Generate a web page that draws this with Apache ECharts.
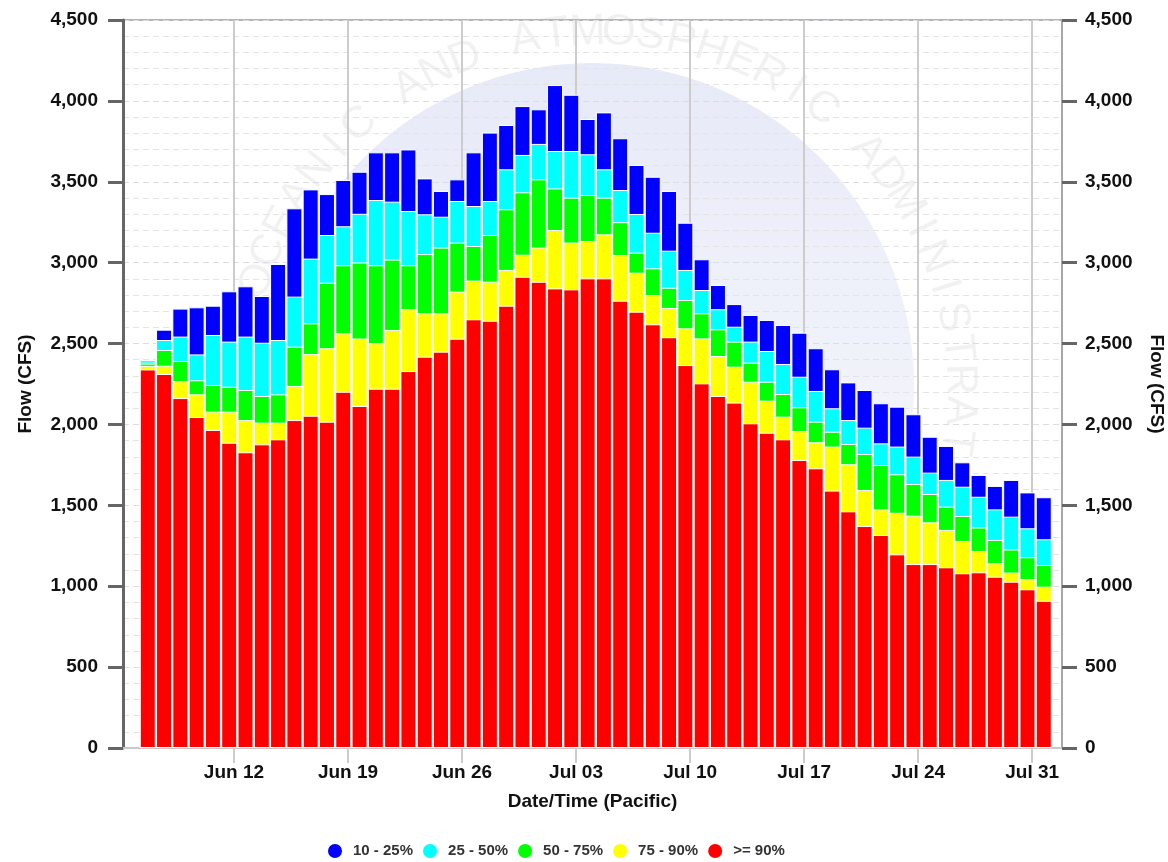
<!DOCTYPE html>
<html>
<head>
<meta charset="utf-8">
<script src="https://cdn.jsdelivr.net/npm/echarts@6/dist/echarts.min.js"></script>
<style>
    html, body { margin: 0; padding: 0; background: #fff; }
    #chart { width: 1168px; height: 862px; }
</style>
</head>
<body>
<div id="chart"></div>
<script>
// days covered by the forecast (one bar each)
var dates = ['Jun 06', 'Jun 07', 'Jun 08', 'Jun 09', 'Jun 10', 'Jun 11', 'Jun 12', 'Jun 13',
    'Jun 14', 'Jun 15', 'Jun 16', 'Jun 17', 'Jun 18', 'Jun 19', 'Jun 20', 'Jun 21', 'Jun 22',
    'Jun 23', 'Jun 24', 'Jun 25', 'Jun 26', 'Jun 27', 'Jun 28', 'Jun 29', 'Jun 30', 'Jul 01',
    'Jul 02', 'Jul 03', 'Jul 04', 'Jul 05', 'Jul 06', 'Jul 07', 'Jul 08', 'Jul 09', 'Jul 10',
    'Jul 11', 'Jul 12', 'Jul 13', 'Jul 14', 'Jul 15', 'Jul 16', 'Jul 17', 'Jul 18', 'Jul 19',
    'Jul 20', 'Jul 21', 'Jul 22', 'Jul 23', 'Jul 24', 'Jul 25', 'Jul 26', 'Jul 27', 'Jul 28',
    'Jul 29', 'Jul 30', 'Jul 31'];

var tickDates = ['Jun 12', 'Jun 19', 'Jun 26', 'Jul 03', 'Jul 10', 'Jul 17', 'Jul 24', 'Jul 31'];

// flow (CFS) at each exceedance level = top of each coloured band
var q90 = [2340, 2312, 2163, 2046, 1966, 1887, 1828, 1877, 1908, 2027, 2054, 2017, 2202, 2114,
    2221, 2221, 2330, 2419, 2450, 2530, 2650, 2641, 2734, 2913, 2882, 2841, 2835, 2903, 2903,
    2765, 2697, 2619, 2539, 2367, 2254, 2176, 2135, 2007, 1949, 1908, 1780, 1729, 1591, 1463,
    1372, 1317, 1197, 1137, 1137, 1117, 1080, 1086, 1059, 1028, 981, 910];
var q75 = [2362, 2363, 2267, 2186, 2079, 2079, 2027, 2011, 2011, 2238, 2435, 2471, 2563, 2531,
    2502, 2584, 2712, 2687, 2687, 2821, 2889, 2882, 2955, 3049, 3093, 3202, 3124, 3134, 3175,
    3047, 2938, 2800, 2720, 2594, 2532, 2423, 2357, 2264, 2147, 2048, 1959, 1890, 1863, 1754,
    1595, 1475, 1454, 1436, 1395, 1348, 1280, 1218, 1142, 1084, 1043, 997];
var q50 = [2376, 2460, 2392, 2273, 2244, 2233, 2213, 2176, 2186, 2481, 2625, 2876, 2984, 3001,
    2984, 3019, 2984, 3053, 3093, 3124, 3103, 3171, 3330, 3435, 3515, 3459, 3402, 3418, 3402,
    3250, 3062, 2965, 2845, 2769, 2687, 2588, 2512, 2382, 2264, 2188, 2106, 2017, 1955, 1879,
    1817, 1749, 1692, 1632, 1570, 1492, 1434, 1363, 1286, 1227, 1179, 1131];
var q25 = [2390, 2522, 2543, 2433, 2553, 2512, 2543, 2505, 2522, 2790, 3025, 3171, 3225, 3302,
    3387, 3377, 3319, 3299, 3284, 3381, 3350, 3381, 3577, 3666, 3734, 3690, 3690, 3670, 3577,
    3449, 3301, 3185, 3074, 2955, 2831, 2712, 2604, 2512, 2454, 2374, 2295, 2207, 2100, 2027,
    1980, 1883, 1863, 1801, 1702, 1657, 1615, 1553, 1475, 1430, 1358, 1290];
var q10 = [2398, 2586, 2716, 2724, 2734, 2823, 2854, 2794, 2992, 3336, 3453, 3424, 3511, 3562,
    3682, 3682, 3700, 3521, 3443, 3515, 3682, 3804, 3851, 3968, 3948, 4098, 4038, 3888, 3929,
    3769, 3604, 3531, 3443, 3247, 3021, 2862, 2744, 2677, 2646, 2615, 2567, 2471, 2341, 2260,
    2213, 2131, 2110, 2063, 1924, 1867, 1766, 1688, 1620, 1657, 1580, 1550];

// drawn back to front: the tallest band first, each lower band painted over it
var bands = [
    { name: '10 - 25%', color: '#0000ff', top: q10 },
    { name: '25 - 50%', color: '#00ffff', top: q25 },
    { name: '50 - 75%', color: '#00ff00', top: q50 },
    { name: '75 - 90%', color: '#ffff00', top: q75 },
    { name: '>= 90%', color: '#ff0000', top: q90 }
];

var myChart = echarts.init(document.getElementById('chart'));

var labelFont = 'Liberation Sans, Arial, sans-serif';

// bar sits a little right of the day start, like the original
var barOffset = 0.71;

var seriesArr = bands.map(function (b) {
    return {
        name: b.name,
        type: 'bar',
        barWidth: 16,
        barGap: '-100%',
        itemStyle: {
            color: b.color,
            borderColor: '#ffffff',
            borderWidth: 1
        },
        emphasis: { disabled: true },
        data: b.top.map(function (v, i) {
            return [i + barOffset, v];
        })
    };
});

// faint NOAA style watermark behind the plot
var wmText = 'NATIONAL OCEANIC AND ATMOSPHERIC ADMINISTRATION';
var wmCx = 600, wmCy = 392;
var wmEls = [{
    type: 'circle',
    z: -20,
    silent: true,
    shape: { cx: 592, cy: 385, r: 322 },
    style: {
        fill: new echarts.graphic.LinearGradient(0, 0, 0, 1, [
            { offset: 0, color: 'rgba(214,219,242,0.6)' },
            { offset: 0.55, color: 'rgba(226,230,246,0.45)' },
            { offset: 1, color: 'rgba(240,244,252,0.2)' }
        ])
    }
}];
var startAng = 207, stepAng = 5.0, wmR = 360;
for (var k = 0; k < wmText.length; k++) {
    var ang = (startAng - k * stepAng) * Math.PI / 180;
    wmEls.push({
        type: 'text',
        z: -19,
        silent: true,
        x: wmCx + wmR * Math.cos(ang),
        y: wmCy - wmR * Math.sin(ang),
        rotation: ang - Math.PI / 2,
        style: {
            text: wmText.charAt(k),
            fill: 'rgba(0,0,0,0.055)',
            font: '44px ' + labelFont,
            align: 'center',
            verticalAlign: 'middle'
        }
    });
}

var tickIdx = tickDates.map(function (d) { return dates.indexOf(d); });

var yBase = {
    type: 'value',
    min: 0,
    max: 4500,
    interval: 500,
    nameLocation: 'middle',
    name: 'Flow (CFS)',
    nameTextStyle: {
        color: '#111',
        fontWeight: 'bold',
        fontSize: 19,
        fontFamily: labelFont
    },
    axisLabel: {
        color: '#111',
        fontWeight: 'bold',
        fontSize: 19,
        fontFamily: labelFont,
        formatter: function (v) { return v.toLocaleString('en-US'); }
    },
    axisTick: {
        show: true,
        length: 15,
        lineStyle: { color: '#666', width: 3 }
    }
};

option = {
    backgroundColor: '#ffffff',
    animation: false,
    graphic: { elements: wmEls },
    grid: {
        left: 123,
        right: 106,
        top: 20,
        bottom: 114,
        outerBoundsMode: 'none',
        containLabel: false,
        show: true,
        borderColor: '#b4b4b4',
        borderWidth: 2,
        backgroundColor: 'transparent'
    },
    legend: {
        left: 321,
        top: 837,
        icon: 'circle',
        itemWidth: 16,
        itemHeight: 16,
        itemGap: 8,
        data: ['10 - 25%', '25 - 50%', '50 - 75%', '75 - 90%', '>= 90%'],
        textStyle: {
            color: '#333',
            fontSize: 15,
            fontWeight: 'bold',
            fontFamily: labelFont,
            padding: [0, 0, 0, 5]
        }
    },
    xAxis: {
        type: 'value',
        min: -0.81,
        max: 56.83,
        name: 'Date/Time (Pacific)',
        nameLocation: 'middle',
        nameGap: 44,
        nameTextStyle: {
            color: '#111',
            fontWeight: 'bold',
            fontSize: 19,
            fontFamily: labelFont
        },
        axisLine: { onZero: false, lineStyle: { color: '#c8c8c8', width: 2 } },
        axisTick: {
            show: true,
            customValues: tickIdx,
            length: 15,
            lineStyle: { color: '#cccccc', width: 2 }
        },
        axisLabel: {
            customValues: tickIdx,
            margin: 15,
            color: '#111',
            fontWeight: 'bold',
            fontSize: 19,
            fontFamily: labelFont,
            formatter: function (v) { return dates[Math.round(v)]; }
        },
        splitLine: {
            show: true,
            lineStyle: { color: '#cccccc', width: 2 }
        }
    },
    yAxis: [
        echarts.util.merge({
            position: 'left',
            nameGap: 88,
            axisLine: { show: true, onZero: false, lineStyle: { color: '#666', width: 3 } },
            axisLabel: { margin: 25 },
            splitLine: {
                show: true,
                lineStyle: { color: '#dcdce4', type: [6, 4], width: 1 }
            },
            minorTick: { show: false, splitNumber: 5 },
            minorSplitLine: {
                show: true,
                lineStyle: { color: '#e4e4e4', type: [6, 4], width: 1 }
            }
        }, yBase, true),
        echarts.util.merge({
            position: 'right',
            nameGap: 85,
            nameRotate: -90,
            axisLine: { show: true, onZero: false, lineStyle: { color: '#a8a8a8', width: 2 } },
            axisLabel: { margin: 23 },
            splitLine: { show: false }
        }, yBase, true)
    ],
    series: seriesArr
};

myChart.setOption(option);
window.addEventListener('resize', function () {
    myChart.resize();
});
</script>
</body>
</html>
